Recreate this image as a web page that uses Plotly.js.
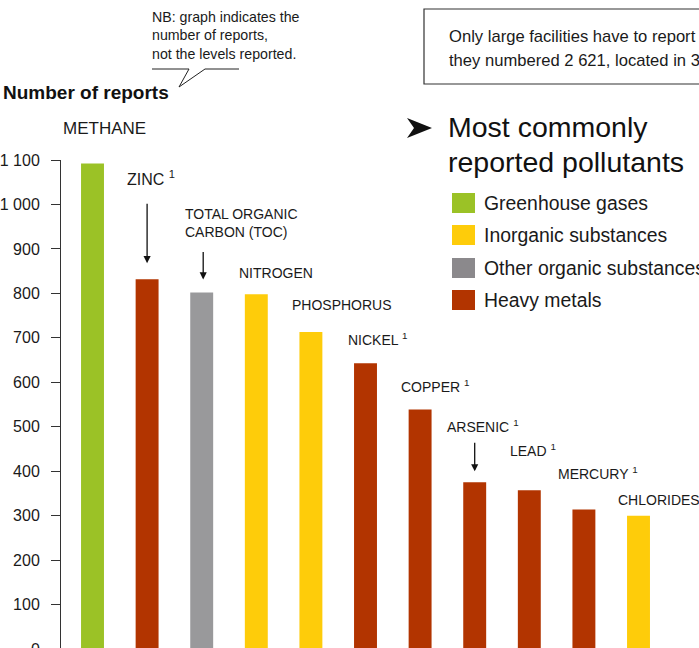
<!DOCTYPE html>
<html>
<head>
<meta charset="utf-8">
<script src="https://cdn.plot.ly/plotly-3.0.1.min.js"></script>
<style>
  html, body { margin: 0; padding: 0; overflow: hidden; background: #fff; }
  #chart { width: 699px; height: 649px; }
</style>
</head>
<body>
<div id="chart"></div>
<script>
// ---- DATA ----
const pollutants = ["METHANE", "ZINC", "TOTAL ORGANIC<br>CARBON (TOC)", "NITROGEN", "PHOSPHORUS",
                    "NICKEL", "COPPER", "ARSENIC", "LEAD", "MERCURY", "CHLORIDES"];
const footnote = ["", "1", "", "", "", "1", "1", "1", "1", "1", ""];
const reports = [1092, 832, 802, 798, 713, 643, 539, 375, 357, 314, 300];
const groups = ["Greenhouse gases", "Heavy metals", "Other organic substances", "Inorganic substances",
                "Inorganic substances", "Heavy metals", "Heavy metals", "Heavy metals", "Heavy metals",
                "Heavy metals", "Inorganic substances"];
const legendGroups = ["Greenhouse gases", "Inorganic substances", "Other organic substances", "Heavy metals"];
const yTicks = [0, 100, 200, 300, 400, 500, 600, 700, 800, 900, 1000, 1100];
const heading = ["Most commonly", "reported pollutants"];
const boxText = ["Only large facilities have to report", "they numbered 2 621, located in 3"];
const noteText = "NB: graph indicates the<br>number of reports,<br>not the levels reported.";
const axisTitle = "Number of reports";

// ---- STYLES ----
const barColors = {
  "Greenhouse gases": "#9bc226",
  "Inorganic substances": "#fecc0a",
  "Other organic substances": "#99999b",
  "Heavy metals": "#b23400"
};
const legendColors = {
  "Greenhouse gases": "#9bc226",
  "Inorganic substances": "#fecc0a",
  "Other organic substances": "#8b898c",
  "Heavy metals": "#b23400"
};
const FONT = "Liberation Sans, Arial, sans-serif";
const TXT = "#1a1a1a";

const W = 699, H = 649, ML = 61, MT = 160, MB = 0, MR = 0;
const PW = W - ML - MR, PH = H - MT - MB;
const px = x => (x - ML) / PW;          // pixel -> paper x
const py = y => (H - MB - y) / PH;      // pixel -> paper y

// label placement offsets (pixels) relative to bar centre / bar top, and font size
const labelShift = [[-32, 35, 17], [-22, 101, 16], [-19, 69, 14], [-19, 21, 14], [-21, 27, 14],
                    [-20, 24, 14], [-21, 23, 14], [-30, 56, 14], [-21, 40, 14], [-28, 36, 14], [-23, 16, 14]];
const arrows = {1: [16, -77, 0], 2: [13, -42, 1.5], 7: [11, -41, 0]};

const trace = {
  type: "bar",
  x: pollutants.map((p, i) => i),
  y: reports,
  width: 0.42,
  marker: { color: groups.map(g => barColors[g]) },
  hoverinfo: "skip"
};

const annotations = [];
pollutants.forEach((p, i) => {
  const s = labelShift[i];
  annotations.push({
    xref: "x", yref: "y", x: i, y: reports[i],
    text: p + (footnote[i] ? " <sup>" + footnote[i] + "</sup>" : ""),
    showarrow: false, xanchor: "left", yanchor: "middle", align: "left",
    xshift: s[0], yshift: s[1],
    font: { family: FONT, size: s[2], color: TXT }
  });
  if (arrows[i]) {
    const a = arrows[i];
    annotations.push({
      xref: "x", yref: "y", x: i, y: reports[i], text: "",
      showarrow: true, axref: "pixel", ayref: "pixel", ax: 0, ay: a[1],
      standoff: a[0], xshift: a[2],
      arrowhead: 2, arrowsize: 1.1, arrowwidth: 1.3, arrowcolor: "#111"
    });
  }
});

// note
annotations.push({
  xref: "paper", yref: "paper", x: px(150), y: py(35.5), text: noteText,
  showarrow: false, xanchor: "left", yanchor: "middle", align: "left",
  font: { family: FONT, size: 14.2, color: TXT }
});
// box text
boxText.forEach((t, k) => annotations.push({
  xref: "paper", yref: "paper", x: px(447), y: py([37, 60][k]), text: t,
  showarrow: false, xanchor: "left", yanchor: "middle",
  font: { family: FONT, size: 16.6, color: TXT }
}));
// heading
heading.forEach((t, k) => annotations.push({
  xref: "paper", yref: "paper", x: px(446), y: py([127, 162][k]), text: t,
  showarrow: false, xanchor: "left", yanchor: "middle",
  font: { family: FONT, size: 28.5, color: "#111" }
}));
// legend
const legY = [203, 235, 268, 300];
const shapes = [];
legendGroups.forEach((g, k) => {
  annotations.push({
    xref: "paper", yref: "paper", x: px(482), y: py(legY[k]), text: g,
    showarrow: false, xanchor: "left", yanchor: "middle",
    font: { family: FONT, size: 19.4, color: TXT }
  });
  shapes.push({
    type: "rect", xref: "paper", yref: "paper",
    x0: px(452), x1: px(475), y0: py(legY[k] + 10), y1: py(legY[k] - 10),
    fillcolor: legendColors[g], line: { width: 0 }
  });
});

// box
shapes.push({
  type: "rect", xref: "paper", yref: "paper",
  x0: px(424), x1: px(730), y0: py(84), y1: py(9),
  line: { color: "#333", width: 1.2 }, fillcolor: "rgba(0,0,0,0)"
});
// callout
const P = (a, b) => px(a) + "," + py(b);
shapes.push({
  type: "path", xref: "paper", yref: "paper",
  path: "M" + P(152, 69) + " L" + P(189, 69) + " L" + P(179, 87) + " L" + P(205, 69) + " L" + P(239, 69),
  line: { color: "#222", width: 1 }
});
// heading arrow head
shapes.push({
  type: "path", xref: "paper", yref: "paper",
  path: "M" + P(407, 118) + " L" + P(432, 128) + " L" + P(407, 138) + " L" + P(414, 128) + " Z",
  fillcolor: "#111", line: { width: 0 }
});

const layout = {
  width: W, height: H,
  margin: { l: ML, r: MR, t: MT, b: MB, pad: 0 },
  paper_bgcolor: "#fff", plot_bgcolor: "#fff",
  separators: ". ",
  showlegend: false,
  title: {
    text: "<b>" + axisTitle + "</b>",
    font: { family: FONT, size: 19, color: "#111" },
    xref: "container", yref: "container",
    x: 3 / W, y: 1 - 92 / H, xanchor: "left", yanchor: "middle",
    pad: { l: 0, r: 0, t: 0, b: 0 }
  },
  xaxis: {
    range: [-0.577, (PW / 54.6) - 0.577],
    visible: false, fixedrange: true
  },
  yaxis: {
    range: [0, 1100],
    tickvals: yTicks,
    tickformat: ",d",
    ticks: "outside", ticklen: 9, tickwidth: 1, tickcolor: "#333",
    showline: true, linecolor: "#333", linewidth: 1,
    showgrid: false, zeroline: false,
    ticklabelstandoff: 8,
    ticklabeloverflow: "allow",
    tickfont: { family: FONT, size: 16, color: TXT },
    fixedrange: true
  },
  annotations: annotations,
  shapes: shapes
};

Plotly.newPlot("chart", [trace], layout, { displayModeBar: false, staticPlot: true });
</script>
</body>
</html>
